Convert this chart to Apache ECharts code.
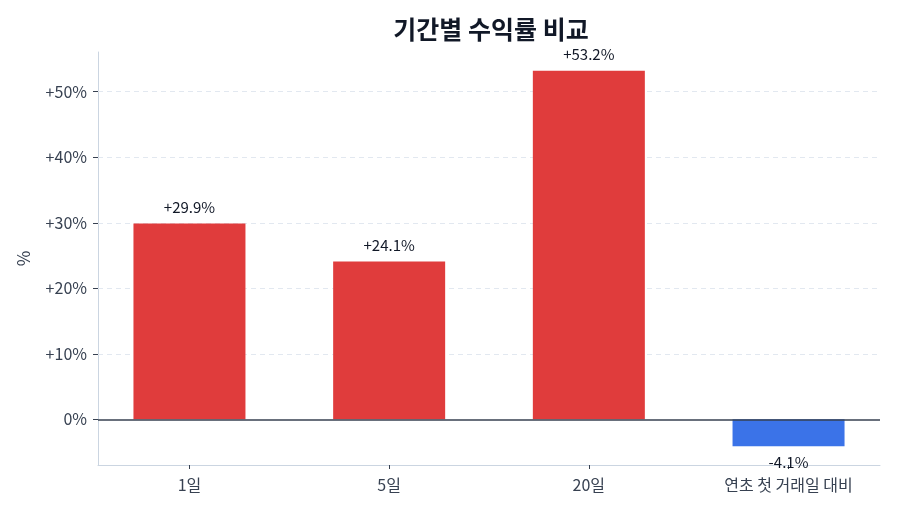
<!DOCTYPE html>
<html>
<head>
<meta charset="utf-8">
<script src="https://cdn.jsdelivr.net/npm/echarts@6/dist/echarts.min.js"></script>
<style>
  html, body { margin: 0; padding: 0; background: #fff; }
  #chart { width: 900px; height: 514px; }
</style>
</head>
<body>
<div id="chart"></div>
<script>
const categories = ['1일', '5일', '20일', '연초 첫 거래일 대비'];
const returns = [29.9, 24.1, 53.2, -4.1];
const yTicks = [0, 10, 20, 30, 40, 50];

const FONT = '"Noto Sans CJK KR", "Noto Sans", sans-serif';
const UP = '#e03c3c';
const DOWN = '#3b73e8';

// matplotlib-like margins: 5% of the data range on each side
const yLo = Math.min(0, ...returns);
const yHi = Math.max(0, ...returns);
const yPad = (yHi - yLo) * 0.05;
const halfBar = 0.28;
const xPad = (categories.length - 1 + 2 * halfBar) * 0.05;

const fmtPct = (v) => (v > 0 ? '+' : '') + v + '%';

const chart = echarts.init(document.getElementById('chart'));

const option = {
    backgroundColor: '#fff',
    animation: false,
    title: {
        text: '기간별 수익률 비교',
        left: 486,
        top: 12,
        textAlign: 'center',
        textStyle: { fontFamily: FONT, fontSize: 25, fontWeight: 'bold', color: '#111827' },
    },
    grid: { left: 98, right: 20, top: 52, bottom: 49 },
    xAxis: {
        type: 'value',
        min: -halfBar - xPad,
        max: categories.length - 1 + halfBar + xPad,
        axisLine: { show: true, onZero: false, lineStyle: { color: '#cbd5e1', width: 1 } },
        axisTick: { show: true, customValues: categories.map((c, i) => i), length: 4, lineStyle: { color: '#374151' } },
        axisLabel: {
            customValues: categories.map((c, i) => i),
            formatter: (v) => categories[Math.round(v)],
            fontFamily: FONT, fontSize: 16, color: '#374151', margin: 12,
        },
        splitLine: { show: false },
    },
    yAxis: {
        type: 'value',
        min: yLo - yPad,
        max: yHi + yPad,
        name: '%',
        nameLocation: 'middle',
        nameRotate: 90,
        nameGap: 66,
        nameTextStyle: { fontFamily: FONT, fontSize: 17, color: '#374151' },
        axisLine: { show: true, onZero: false, lineStyle: { color: '#cbd5e1', width: 1 } },
        axisTick: { show: true, customValues: yTicks, length: 5, lineStyle: { color: '#374151' } },
        axisLabel: {
            customValues: yTicks,
            formatter: (v) => fmtPct(v),
            fontFamily: FONT, fontSize: 16, color: '#374151', margin: 11,
        },
        splitLine: { show: false },
    },
    series: [
        {
            // background grid lines, kept under the bars
            type: 'line',
            z: 1,
            data: [],
            markLine: {
                z: 1,
                silent: true,
                symbol: 'none',
                label: { show: false },
                data: yTicks.filter((t) => t !== 0).map((t) => ({
                    yAxis: t,
                    lineStyle: { color: '#e2e8f0', type: [5, 4], width: 1 },
                })),
            },
        },
        {
            type: 'bar',
            z: 3,
            barWidth: 112,
            data: returns.map((v, i) => ({
                value: [i, v],
                itemStyle: { color: v >= 0 ? UP : DOWN },
                label: { position: v >= 0 ? 'top' : 'bottom' },
            })),
            label: {
                show: true,
                distance: 9,
                formatter: (p) => fmtPct(p.value[1]),
                fontFamily: FONT, fontSize: 15, color: '#111827',
            },
            markLine: {
                z: 5,
                silent: true,
                symbol: 'none',
                label: { show: false },
                data: [{ yAxis: 0, lineStyle: { color: '#374151', type: 'solid', width: 1.5 } }],
            },
        },
    ],
};

chart.setOption(option);
</script>
</body>
</html>
